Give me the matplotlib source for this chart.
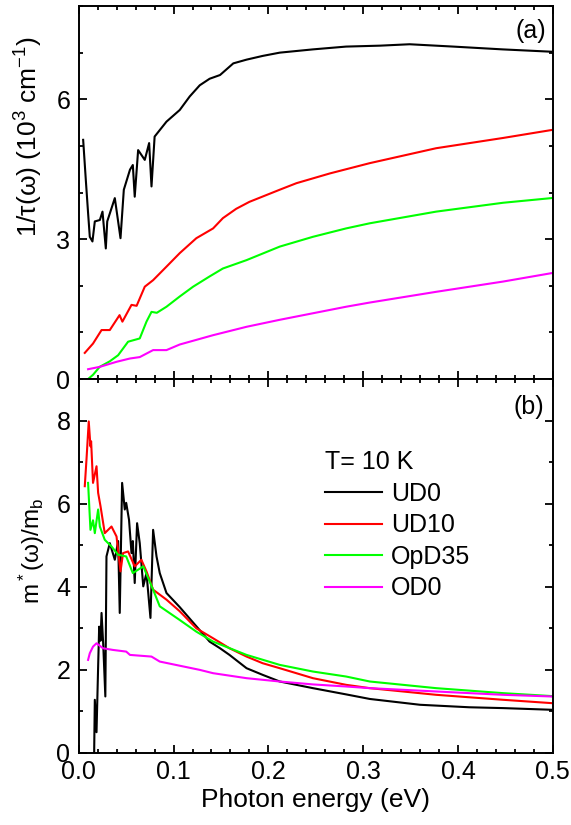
import matplotlib
matplotlib.use("Agg")
import matplotlib.pyplot as plt
from matplotlib.ticker import MultipleLocator

plt.rcParams['font.family'] = ['Liberation Sans', 'DejaVu Sans']
plt.rcParams['mathtext.fontset'] = 'custom'
plt.rcParams['mathtext.rm'] = 'Liberation Sans'
plt.rcParams['mathtext.it'] = 'Liberation Sans:italic'
plt.rcParams['font.size'] = 18

# (a) scattering rate 1/tau, 10^3 cm^-1
ud0_xa = [0.0046, 0.0074, 0.0098, 0.0116, 0.0144, 0.0169, 0.0222, 0.025, 0.0285, 0.030,
          0.038, 0.044, 0.0475, 0.054, 0.057, 0.059, 0.0626, 0.0696, 0.0742, 0.0767,
          0.080, 0.0925, 0.1065, 0.117, 0.1276, 0.138, 0.149, 0.163, 0.177, 0.194,
          0.212, 0.247, 0.282, 0.318, 0.349, 0.395, 0.447, 0.4986]
ud0_a = [5.13, 4.27, 3.56, 3.05, 2.95, 3.38, 3.41, 3.59, 2.80, 3.38,
         3.88, 3.02, 4.06, 4.49, 4.59, 3.91, 4.91, 4.70, 5.06, 4.13,
         5.20, 5.52, 5.77, 6.06, 6.30, 6.44, 6.52, 6.77, 6.85, 6.93,
         7.00, 7.07, 7.13, 7.15, 7.18, 7.13, 7.07, 7.02]

ud10_xa = [0.0063, 0.015, 0.024, 0.0327, 0.043, 0.046, 0.0556, 0.061, 0.0696, 0.0784,
           0.0925, 0.1065, 0.124, 0.1417, 0.152, 0.166, 0.180, 0.212, 0.2296, 0.265,
           0.307, 0.377, 0.4476, 0.4986]
ud10_a = [0.56, 0.76, 1.05, 1.05, 1.37, 1.23, 1.59, 1.57, 1.98, 2.12,
          2.41, 2.70, 3.02, 3.23, 3.45, 3.65, 3.80, 4.06, 4.20, 4.41,
          4.63, 4.95, 5.17, 5.34]

opd35_xa = [0.0098, 0.015, 0.022, 0.0327, 0.0415, 0.052, 0.0643, 0.0714, 0.0767, 0.0823,
            0.0925, 0.1065, 0.1206, 0.138, 0.152, 0.177, 0.212, 0.247, 0.282, 0.307,
            0.377, 0.4476, 0.4986]
opd35_a = [0.0, 0.09, 0.26, 0.38, 0.51, 0.80, 0.87, 1.23, 1.44, 1.42,
           1.55, 1.77, 1.98, 2.20, 2.37, 2.55, 2.84, 3.05, 3.23, 3.34,
           3.59, 3.78, 3.88]

od0_xa = [0.0098, 0.022, 0.040, 0.054, 0.0643, 0.0784, 0.0925, 0.1065, 0.1417, 0.177,
          0.212, 0.247, 0.282, 0.307, 0.377, 0.4476, 0.4986]
od0_a = [0.21, 0.26, 0.37, 0.44, 0.47, 0.62, 0.62, 0.74, 0.94, 1.12,
         1.27, 1.41, 1.55, 1.64, 1.87, 2.09, 2.27]

# (b) effective mass m*/m_b
ud0_xb = [0.0162, 0.0169, 0.0187, 0.0204, 0.0215, 0.0229, 0.024, 0.0258, 0.028, 0.0292,
          0.0327, 0.038, 0.0415, 0.0432, 0.0457, 0.0485, 0.050, 0.053, 0.0556, 0.057,
          0.059, 0.0615, 0.0643, 0.068, 0.0714, 0.0756, 0.0784, 0.082, 0.0854, 0.0925,
          0.1065, 0.124, 0.138, 0.149, 0.159, 0.177, 0.194, 0.212, 0.247, 0.282,
          0.307, 0.36, 0.412, 0.4476, 0.4986]
ud0_b = [0.0, 1.28, 0.5, 2.08, 3.04, 2.7, 3.37, 2.6, 1.36, 4.73,
         5.05, 4.65, 5.1, 3.37, 6.50, 5.86, 6.02, 5.61, 4.81, 5.1,
         4.09, 5.53, 5.05, 4.01, 4.33, 3.25, 5.37, 4.73, 4.33, 3.85,
         3.51, 3.05, 2.68, 2.52, 2.36, 2.04, 1.88, 1.72, 1.56, 1.41,
         1.30, 1.16, 1.10, 1.08, 1.04]

ud10_xb = [0.0063, 0.0081, 0.0105, 0.0123, 0.013, 0.015, 0.0187, 0.0204, 0.0229, 0.0274,
           0.0345, 0.0398, 0.044, 0.0467, 0.052, 0.059, 0.066, 0.0714, 0.0784, 0.0925,
           0.1065, 0.124, 0.1417, 0.159, 0.177, 0.194, 0.212, 0.247, 0.282, 0.307,
           0.377, 0.4476, 0.4986]
ud10_b = [6.42, 7.06, 7.98, 7.38, 7.5, 6.50, 6.90, 6.26, 5.94, 5.29,
          5.45, 5.21, 4.37, 4.81, 4.85, 4.49, 4.65, 4.37, 3.93, 3.69,
          3.41, 3.00, 2.76, 2.52, 2.32, 2.16, 2.04, 1.80, 1.64, 1.56,
          1.40, 1.28, 1.20]

opd35_xb = [0.0098, 0.0123, 0.015, 0.0169, 0.0204, 0.0222, 0.0274, 0.0345, 0.0415, 0.050,
            0.057, 0.068, 0.0784, 0.0854, 0.1065, 0.124, 0.1417, 0.177, 0.212, 0.247,
            0.282, 0.307, 0.377, 0.4476, 0.4986]
opd35_b = [6.50, 5.37, 5.6, 5.29, 5.86, 5.45, 5.13, 4.97, 4.77, 4.73,
           4.33, 4.49, 3.93, 3.53, 3.20, 2.92, 2.68, 2.36, 2.12, 1.96,
           1.84, 1.72, 1.56, 1.44, 1.37]

od0_xb = [0.0098, 0.0116, 0.015, 0.0187, 0.0256, 0.036, 0.050, 0.054, 0.0767, 0.0854,
          0.1065, 0.1276, 0.1417, 0.177, 0.212, 0.247, 0.282, 0.307, 0.377, 0.4476,
          0.4986]
od0_b = [2.24, 2.40, 2.56, 2.64, 2.52, 2.48, 2.44, 2.36, 2.32, 2.20,
         2.10, 2.00, 1.92, 1.80, 1.72, 1.65, 1.60, 1.56, 1.48, 1.40,
         1.36]

names = ['UD0', 'UD10', 'OpD35', 'OD0']
colors = ['black', '#ff0000', '#00ff00', '#ff00ff']

fig = plt.figure(figsize=(5.71, 8.25), dpi=100)
ax1 = fig.add_axes([0.138, 0.5406, 0.830, 0.4521])
ax2 = fig.add_axes([0.138, 0.0873, 0.830, 0.4533], sharex=ax1)

for xs, ys, c in zip([ud0_xa, ud10_xa, opd35_xa, od0_xa], [ud0_a, ud10_a, opd35_a, od0_a], colors):
    ax1.plot(xs, ys, color=c, lw=1.5)
for xs, ys, c, n in zip([ud0_xb, ud10_xb, opd35_xb, od0_xb], [ud0_b, ud10_b, opd35_b, od0_b], colors, names):
    ax2.plot(xs, ys, color=c, lw=1.5, label=n)

ax1.set_xlim(0, 0.5)
ax1.set_ylim(0, 8)
ax2.set_ylim(0, 9)
ax1.yaxis.set_major_locator(MultipleLocator(3))
ax1.yaxis.set_minor_locator(MultipleLocator(1))
ax2.yaxis.set_major_locator(MultipleLocator(2))
ax2.yaxis.set_minor_locator(MultipleLocator(1))
ax2.xaxis.set_major_locator(MultipleLocator(0.1))
ax2.xaxis.set_minor_locator(MultipleLocator(0.02))
ax2.xaxis.set_major_formatter(plt.FormatStrFormatter('%.1f'))

for ax in (ax1, ax2):
    ax.tick_params(which='both', direction='in', top=True, right=True, width=1.3)
    ax.tick_params(which='major', length=6)
    ax.tick_params(which='minor', length=3)
    ax.tick_params(axis='y', pad=6)
    for s in ax.spines.values():
        s.set_linewidth(1.4)
ax1.tick_params(labelbottom=False)
ax2.tick_params(axis='x', pad=5)

ax1.set_ylabel(r'1/τ(ω) (10$^3$ cm$^{-1}$)', fontsize=19)
ax1.yaxis.set_label_coords(-0.072, 0.65)
ax2.set_ylabel(r'm$^*$(ω)/m$_\mathrm{b}$', fontsize=17.5)
ax2.yaxis.set_label_coords(-0.068, 0.54)
ax2.set_xlabel('Photon energy (eV)', fontsize=19, labelpad=3)

ax1.text(0.987, 0.965, '(a)', transform=ax1.transAxes, ha='right', va='top', fontsize=18)
ax2.text(0.982, 0.957, '(b)', transform=ax2.transAxes, ha='right', va='top', fontsize=18)

leg = ax2.legend(loc='upper left', bbox_to_anchor=(0.519, 0.809), frameon=False,
                 title='T= 10 K', title_fontsize=18, fontsize=18, handlelength=2.3,
                 handletextpad=0.36, labelspacing=0.3, borderaxespad=0, borderpad=0,
                 alignment='left')

fig.savefig('out.png', dpi=100)
